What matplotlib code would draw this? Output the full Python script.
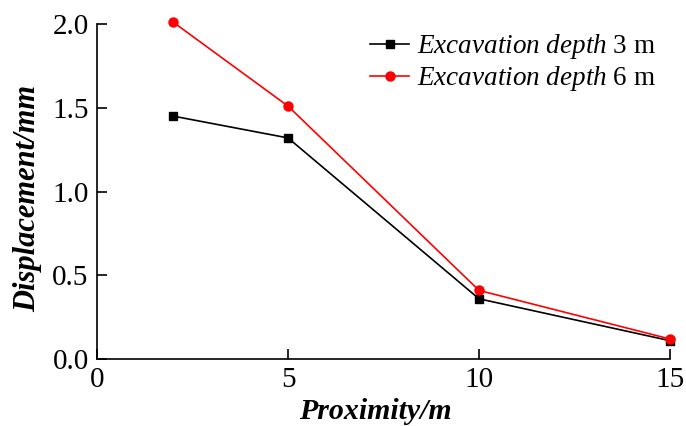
import matplotlib
matplotlib.use("Agg")
import matplotlib.pyplot as plt

proximity = [2, 5, 10, 15]
depth3 = [1.45, 1.32, 0.36, 0.11]
depth6 = [2.01, 1.51, 0.41, 0.12]
xticks = [0, 5, 10, 15]
yticks = [0.0, 0.5, 1.0, 1.5, 2.0]

plt.rcParams['font.family'] = ['Liberation Serif']
plt.rcParams['mathtext.fontset'] = 'custom'
plt.rcParams['mathtext.rm'] = 'Liberation Serif'
plt.rcParams['mathtext.it'] = 'Liberation Serif:italic'

fig = plt.figure(figsize=(6.86, 4.26), dpi=100)
ax = fig.add_axes([0.1414, 0.157, 0.8353, 0.7867])

ax.plot(proximity, depth3, color='black', marker='s', markersize=6, linewidth=1.2,
        label=r'$\mathit{Excavation\ depth}$ 3 m', clip_on=False, zorder=3)
ax.plot(proximity, depth6, color='red', marker='o', markersize=6.5, linewidth=1.2,
        label=r'$\mathit{Excavation\ depth}$ 6 m', clip_on=False, zorder=4)

ax.set_xlim(0, 15)
ax.set_ylim(0, 2.0)
ax.set_xticks(xticks)
ax.set_yticks(yticks)
ax.set_xticklabels([str(t) for t in xticks])
ax.set_yticklabels([f"{t:.1f}" for t in yticks])
ax.tick_params(direction='in', labelsize=21, width=1.2, length=7, pad=6)
for s in ['top', 'right']:
    ax.spines[s].set_visible(False)
for s in ['left', 'bottom']:
    ax.spines[s].set_linewidth(1.2)

ax.set_xlabel('Proximity/m', fontsize=21.5, fontweight='bold', fontstyle='italic')
ax.set_ylabel('Displacement/mm', fontsize=22, fontweight='bold', fontstyle='italic')
ax.xaxis.set_label_coords(0.485, -0.115)
ax.yaxis.set_label_coords(-0.096, 0.48)

ax.legend(loc='upper right', frameon=False, fontsize=19.5, handlelength=1.45,
          handletextpad=0.3, labelspacing=0.12, borderaxespad=0.0, bbox_to_anchor=(0.995, 1.008))

fig.savefig('out.png', dpi=100)
